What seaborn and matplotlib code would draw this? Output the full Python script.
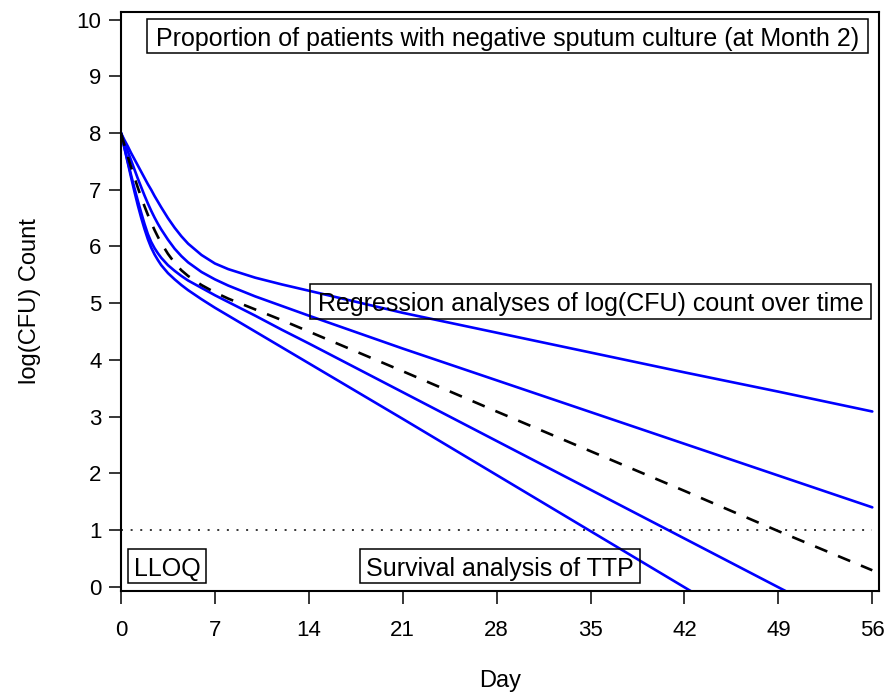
import matplotlib
matplotlib.use("Agg")
import matplotlib.pyplot as plt
from matplotlib.patches import Rectangle
import numpy as np
import pandas as pd
import seaborn as sns

# Sampling days (day 0 to day 56), denser over the early rapid-kill phase
days = [0, 0.25, 0.5, 0.75, 1, 1.25, 1.5, 1.75, 2, 2.25, 2.5, 2.75, 3, 3.5, 4, 4.5, 5,
        6, 7, 8, 10, 12, 14, 21, 28, 35, 42, 49, 56]

# Simulated log(CFU) count trajectories (blue) and the reference profile (dashed)
curve_1 = [8.00, 7.88, 7.77, 7.65, 7.54, 7.43, 7.32, 7.21, 7.10, 7.00, 6.89, 6.79, 6.69,
           6.50, 6.33, 6.18, 6.05, 5.85, 5.70, 5.60, 5.45, 5.33, 5.22, 4.83, 4.48, 4.13,
           3.78, 3.44, 3.09]
curve_2 = [8.00, 7.84, 7.68, 7.52, 7.36, 7.20, 7.05, 6.90, 6.76, 6.63, 6.51, 6.40, 6.30,
           6.12, 5.96, 5.83, 5.72, 5.55, 5.42, 5.31, 5.12, 4.95, 4.78, 4.20, 3.64, 3.08,
           2.52, 1.96, 1.40]
curve_3 = [8.00, 7.75, 7.50, 7.26, 7.03, 6.81, 6.60, 6.40, 6.22, 6.08, 5.97, 5.88, 5.80,
           5.67, 5.57, 5.48, 5.40, 5.27, 5.14, 5.02, 4.78, 4.53, 4.29, 3.43, 2.57, 1.71,
           0.85, -0.01, -0.87]
curve_4 = [8.00, 7.74, 7.48, 7.22, 6.97, 6.73, 6.51, 6.31, 6.13, 5.98, 5.86, 5.76, 5.67,
           5.53, 5.42, 5.32, 5.23, 5.07, 4.92, 4.78, 4.50, 4.22, 3.94, 2.96, 1.97, 0.98,
           -0.01, -1.00, -1.99]
reference = [8.00, 7.79, 7.59, 7.40, 7.22, 7.04, 6.87, 6.71, 6.56, 6.42, 6.29, 6.17, 6.06,
             5.87, 5.71, 5.58, 5.48, 5.32, 5.19, 5.08, 4.89, 4.70, 4.50, 3.80, 3.09, 2.39,
             1.69, 0.98, 0.29]

lloq = 1.0
x_ticks = [0, 7, 14, 21, 28, 35, 42, 49, 56]
y_ticks = [0, 1, 2, 3, 4, 5, 6, 7, 8, 9, 10]

box_labels = [
    "Proportion of patients with negative sputum culture (at Month 2)",
    "Regression analyses of log(CFU) count over time",
    "LLOQ",
    "Survival analysis of TTP",
]

sns.set_theme(style="white")
plt.rcParams["font.family"] = ["Liberation Sans", "DejaVu Sans"]

fig = plt.figure(figsize=(8.88, 6.92), dpi=100)
W, H = 888, 692
ax = fig.add_axes([121 / W, 1 - 590.7 / H, (879 - 121) / W, (590.7 - 11.7) / H])

blue = "#0000FF"
for vals in (curve_1, curve_2, curve_3, curve_4):
    sns.lineplot(x=days, y=vals, ax=ax, color=blue, linewidth=1.9, sort=False)

sns.lineplot(x=days, y=reference, ax=ax, color="black", linewidth=1.9, sort=False)
ax.lines[-1].set_dashes((5.0, 4.4))

ax.hlines(lloq, days[0], days[-1], colors="black", linewidth=1.1,
          linestyles=(0, (1.3, 5.0)))

ax.set_xlim(0, 56.5)
ax.set_ylim(-0.07, 10.14)
ax.set_xticks(x_ticks)
ax.set_yticks(y_ticks)
ax.set_xticklabels([str(t) for t in x_ticks])
ax.set_yticklabels([str(t) for t in y_ticks])

for side in ("left", "right", "top", "bottom"):
    ax.spines[side].set_visible(True)
    ax.spines[side].set_color("black")
    ax.spines[side].set_linewidth(1.5)

ax.tick_params(axis="both", direction="out", length=9, width=1.1, color="black",
               labelsize=16, labelcolor="black", left=True, bottom=True)
ax.tick_params(axis="x", pad=12)
ax.tick_params(axis="y", pad=5)

ax.set_xlabel("Day", fontsize=17, color="black", labelpad=21)
ax.set_ylabel("log(CFU) Count", fontsize=17, color="black", labelpad=26)

# Annotation boxes: (x0, x1, y0, y1) in data units
boxes = [
    (1.95, 55.70, 9.41, 10.01),
    (14.09, 55.93, 4.72, 5.34),
    (0.50, 6.34, 0.06, 0.66),
    (17.80, 38.70, 0.06, 0.66),
]
for (x0, x1, y0, y1), label in zip(boxes, box_labels):
    ax.add_patch(Rectangle((x0, y0), x1 - x0, y1 - y0, fill=False,
                           edgecolor="black", linewidth=1.1, zorder=5))
    ax.text((x0 + x1) / 2, (y0 + y1) / 2, label, ha="center", va="center_baseline",
            fontsize=18, color="black", zorder=6)

fig.savefig("out.png", dpi=100)
